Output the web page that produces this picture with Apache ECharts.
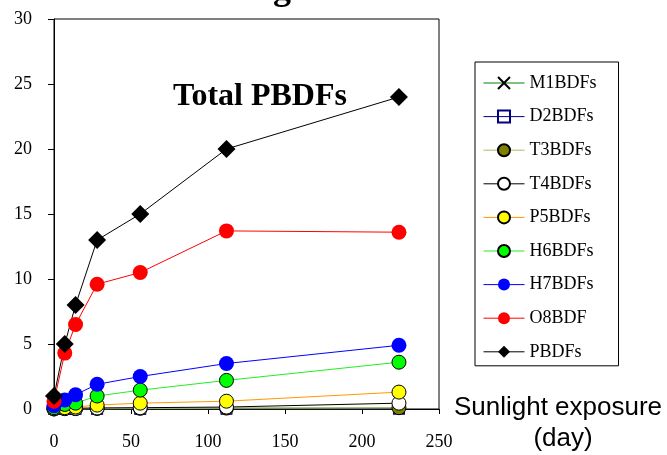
<!DOCTYPE html>
<html>
<head>
<meta charset="utf-8">
<script src="https://cdn.jsdelivr.net/npm/echarts@6/dist/echarts.min.js"></script>
<style>
  html, body { margin: 0; padding: 0; background: #fff; }
  #chart { width: 667px; height: 455px; }
</style>
</head>
<body>
<div id="chart"></div>
<script>
// exposure time (day)
const days = [0, 7, 14, 28, 56, 112, 224];

const m1 = [0, 0, 0, 0, 0, 0, 0];
const d2 = [0.01, 0.01, 0.01, 0.01, 0.01, 0.02, 0.02];
const t3 = [0.02, 0.03, 0.03, 0.04, 0.05, 0.07, 0.1];
const t4 = [0, 0.03, 0.05, 0.08, 0.1, 0.15, 0.45];
const p5 = [0.02, 0.1, 0.15, 0.3, 0.45, 0.6, 1.3];
const h6 = [0.1, 0.35, 0.45, 1.0, 1.45, 2.2, 3.6];
const h7 = [0.25, 0.7, 1.1, 1.9, 2.5, 3.5, 4.9];
const o8 = [0.6, 4.3, 6.5, 9.6, 10.5, 13.7, 13.6];
const total = [1.0, 5.0, 8.0, 13.0, 15.0, 20.0, 24.0];

const yTicks = [0, 5, 10, 15, 20, 25, 30];
const xTicks = [0, 50, 100, 150, 200, 250];

const serif = '"Liberation Serif", "Times New Roman", serif';
const sans = '"Liberation Sans", Arial, sans-serif';

const pairs = (vals) => days.map((d, i) => [d, vals[i]]);

const mkSeries = (name, vals, lineColor, symbol, fill, border, size, lw) => ({
  name: name,
  type: 'line',
  data: pairs(vals),
  symbol: symbol,
  symbolSize: size,
  showAllSymbol: true,
  lineStyle: { color: lineColor, width: lw || 1 },
  itemStyle: {
    color: fill,
    borderColor: border,
    borderWidth: border === 'none' ? 0 : 1
  },
  emphasis: { disabled: true },
  animation: false
});

const chart = echarts.init(document.getElementById('chart'));

chart.setOption({
  animation: false,
  grid: {
    left: 54, right: 228, top: 19, bottom: 46,
    show: true, borderColor: '#000', borderWidth: 1
  },
  xAxis: {
    type: 'value',
    min: 0, max: 250, interval: 50,
    axisLine: { lineStyle: { color: '#000', width: 1 } },
    axisTick: { show: true, length: 5, lineStyle: { color: '#000' } },
    axisLabel: {
      margin: 24, color: '#000', fontSize: 18, fontFamily: serif,
      formatter: (v) => (xTicks.indexOf(v) >= 0 ? String(v) : '')
    },
    splitLine: { show: false }
  },
  yAxis: {
    type: 'value',
    min: 0, max: 30, interval: 5,
    axisLine: { show: true, lineStyle: { color: '#000', width: 1 } },
    axisTick: { show: true, length: 6, lineStyle: { color: '#000' } },
    axisLabel: {
      margin: 22, color: '#000', fontSize: 18, fontFamily: serif,
      formatter: (v) => (yTicks.indexOf(v) >= 0 ? String(v) : '')
    },
    splitLine: { show: false }
  },
  legend: {
    orient: 'vertical',
    left: 475, top: 62,
    padding: [12, 22, 5, 8],
    itemWidth: 41, itemHeight: 15, itemGap: 15.6,
    borderColor: '#000', borderWidth: 1,
    lineStyle: { width: 1 },
    textStyle: { fontFamily: serif, fontSize: 18, color: '#000' },
    data: ['M1BDFs', 'D2BDFs', 'T3BDFs', 'T4BDFs', 'P5BDFs', 'H6BDFs', 'H7BDFs', 'O8BDF', 'PBDFs']
  },
  graphic: [
    {
      type: 'text', x: 282, y: 8,
      style: { text: 'g', font: 'bold 36px ' + serif, fill: '#000', align: 'center', verticalAlign: 'bottom' }
    },
    {
      type: 'text', x: 260, y: 97,
      style: { text: 'Total PBDFs', font: 'bold 32px ' + serif, fill: '#000', align: 'center', verticalAlign: 'middle' }
    },
    {
      type: 'text', x: 558, y: 408,
      style: { text: 'Sunlight exposure', font: '26px ' + sans, fill: '#000', align: 'center', verticalAlign: 'middle' }
    },
    {
      type: 'text', x: 563, y: 439,
      style: { text: '(day)', font: '26px ' + sans, fill: '#000', align: 'center', verticalAlign: 'middle' }
    }
  ],
  series: [
    mkSeries('M1BDFs', m1, '#008000', 'path://M0,0L10,10M10,0L0,10', 'transparent', '#000', 11),
    mkSeries('D2BDFs', d2, '#000080', 'rect', 'transparent', '#000080', 11),
    mkSeries('T3BDFs', t3, '#b5b56e', 'circle', '#808000', '#000', 14, 1.5),
    mkSeries('T4BDFs', t4, '#000', 'circle', '#fff', '#000', 14),
    mkSeries('P5BDFs', p5, '#ff9900', 'circle', '#ffff00', '#000', 14),
    mkSeries('H6BDFs', h6, '#22ee22', 'circle', '#00ff00', '#000', 14),
    mkSeries('H7BDFs', h7, '#0000ff', 'circle', '#0000ff', 'none', 15),
    mkSeries('O8BDF', o8, '#ff0000', 'circle', '#ff0000', 'none', 15),
    mkSeries('PBDFs', total, '#000', 'diamond', '#000', 'none', 18)
  ]
});
</script>
</body>
</html>
